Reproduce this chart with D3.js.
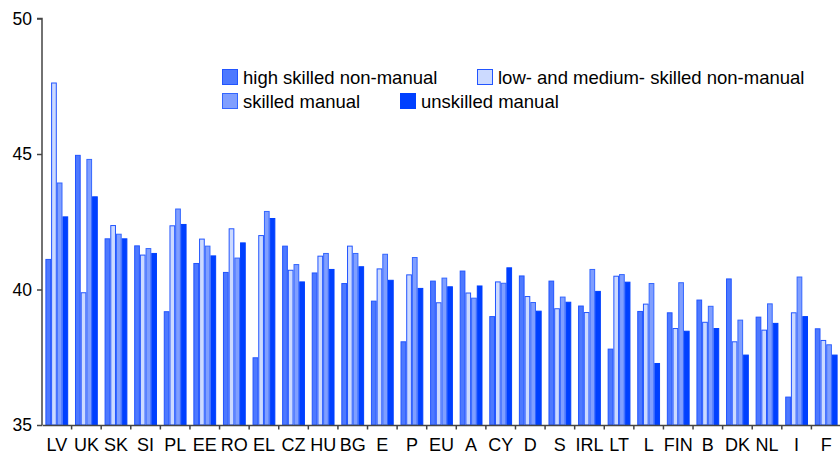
<!DOCTYPE html>
<html><head><meta charset="utf-8">
<script src="https://cdn.jsdelivr.net/npm/d3@7"></script>
<style>body{margin:0;background:#fff}svg{display:block}text{font-family:"Liberation Sans",Arial,sans-serif}</style>
</head><body><svg id="c" width="840" height="455"></svg>
<script>
const categories = ["LV","UK","SK","SI","PL","EE","RO","EL","CZ","HU","BG","E","P","EU","A","CY","D","S","IRL","LT","L","FIN","B","DK","NL","I","F"];
const seriesNames = ["high skilled non-manual","low- and medium- skilled non-manual","skilled manual","unskilled manual"];
const highSkilledNonManual = [41.11,44.95,41.87,41.61,39.18,40.96,40.63,37.48,41.60,40.61,40.22,39.57,38.07,40.31,40.68,39.00,40.50,40.31,39.39,37.80,39.19,39.14,39.61,40.39,38.98,36.03,38.55];
const lowMediumNonManual = [47.62,39.88,42.36,41.27,42.35,41.86,42.24,41.99,40.71,41.23,41.60,40.76,40.54,39.51,39.87,40.28,39.74,39.29,39.15,40.49,39.46,38.56,38.79,38.07,38.50,39.14,38.12];
const skilledManual = [43.93,44.80,42.04,41.51,42.97,41.60,41.16,42.88,40.92,41.33,41.33,41.30,41.18,40.42,39.68,40.23,39.52,39.72,40.74,40.55,40.22,40.25,39.38,38.87,39.47,40.46,37.96];
const unskilledManual = [42.68,43.42,41.87,41.33,42.40,41.24,41.72,42.62,40.28,40.74,40.84,40.34,40.04,40.10,40.13,40.80,39.20,39.53,39.93,40.27,37.27,38.46,38.56,37.58,38.75,39.00,37.58];
const yTicks = [35,40,45,50];

const series = [highSkilledNonManual, lowMediumNonManual, skilledManual, unskilledManual];
const fills = ["#4d79ff","#ccdaff","#809fff","#0040ff"];
const strokes = ["#2255ff","#2255ff","#3366ff","#0040ff"];

const svg = d3.select("#c");
const x0 = d3.scaleBand().domain(categories).range([42, 841]).padding(0);
const x1 = d3.scaleBand().domain(d3.range(4)).range([3.4, x0.bandwidth()-3.4]).padding(0);
const y = d3.scaleLinear().domain([35,50]).range([425, 18.5]);

const g = svg.append("g");
categories.forEach((c, i) => {
  series.forEach((s, k) => {
    g.append("rect")
      .attr("x", x0(c) + x1(k) + 0.5)
      .attr("y", y(s[i]))
      .attr("width", x1.bandwidth() - 1)
      .attr("height", y(35) - y(s[i]))
      .attr("fill", fills[k])
      .attr("stroke", strokes[k])
      .attr("stroke-width", 1);
  });
});

// y axis
const yAxis = svg.append("g").attr("transform","translate(42,0)")
  .call(d3.axisLeft(y).tickValues(yTicks).tickSize(5).tickPadding(5).tickFormat(d3.format("d")));
yAxis.select(".domain").attr("stroke","#444").attr("stroke-width",1.5).attr("d","M-5,18.5H0V425");
yAxis.selectAll(".tick line").attr("stroke","#444").attr("stroke-width",1.5);
yAxis.selectAll("text").attr("font-size",17.5).attr("fill","#000").attr("font-family","Liberation Sans, Arial, sans-serif");

// x axis
const xAxis = svg.append("g").attr("transform","translate(0,425)")
  .call(d3.axisBottom(x0).tickSize(0).tickPadding(0));
xAxis.select(".domain").attr("stroke","#444").attr("stroke-width",1.5);
xAxis.selectAll(".tick line").remove();
xAxis.selectAll("text").attr("dy",null).attr("y",25.8).attr("font-size",18).attr("fill","#000").attr("font-family","Liberation Sans, Arial, sans-serif");
// boundary ticks
svg.append("g").selectAll("line").data(categories.slice(1)).join("line")
  .attr("x1", d => x0(d)).attr("x2", d => x0(d))
  .attr("y1", 425).attr("y2", 429.5).attr("stroke","#444").attr("stroke-width",1.5);

// legend
const legendPos = [[222,69],[477,69],[222,93],[400,93]];
const lg = svg.append("g");
seriesNames.forEach((n,k) => {
  const [lx, ly] = legendPos[k];
  lg.append("rect").attr("x",lx+0.5).attr("y",ly+0.5).attr("width",15).attr("height",15)
    .attr("fill",fills[k]).attr("stroke",strokes[k]).attr("stroke-width",1);
  lg.append("text").attr("x",lx+21).attr("y",ly+14.5).attr("font-size",18.5).attr("fill","#000").text(n);
});
</script></body></html>
